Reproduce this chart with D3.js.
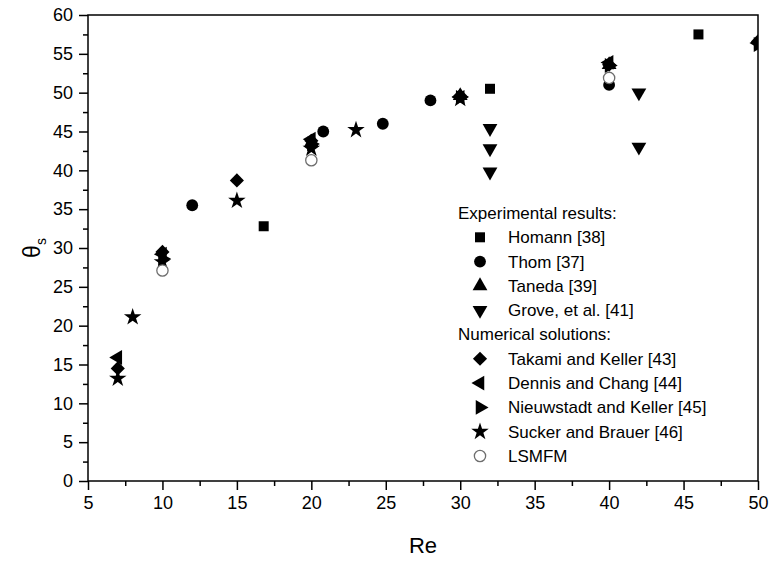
<!DOCTYPE html>
<html>
<head>
<meta charset="utf-8">
<script src="https://cdn.jsdelivr.net/npm/d3@7"></script>
<style>
  html, body { margin: 0; padding: 0; background: #fff; }
  text { font-family: "Liberation Sans", Arial, sans-serif; fill: #000; }
</style>
</head>
<body>
<svg id="chart" width="770" height="582"></svg>
<script>
// Separation angle θs versus Reynolds number
const reTicks = [5, 10, 15, 20, 25, 30, 35, 40, 45, 50];
const thetaTicks = [0, 5, 10, 15, 20, 25, 30, 35, 40, 45, 50, 55, 60];

// Experimental results
const homannRe = [16.8, 32, 46];
const homannTheta = [32.8, 50.5, 57.5];
const thomRe = [12, 20.8, 24.8, 28, 40];
const thomTheta = [35.5, 45.0, 46.0, 49.0, 51.0];
const tanedaRe = [20, 30, 40];
const tanedaTheta = [43.6, 49.6, 53.6];
const groveRe = [32, 32, 32, 42, 42];
const groveTheta = [45.4, 42.8, 39.8, 50.0, 43.0];

// Numerical solutions
const takamiRe = [7, 10, 15, 20, 30, 40, 50];
const takamiTheta = [14.5, 29.5, 38.7, 43.8, 49.6, 53.6, 56.6];
const dennisRe = [7, 10, 20, 30, 40, 50];
const dennisTheta = [15.9, 29.2, 44.0, 49.4, 53.9, 56.4];
const nieuwRe = [10, 20, 30, 40, 50];
const nieuwTheta = [28.6, 43.4, 49.4, 53.5, 56.2];
const suckerRe = [7, 8, 10, 15, 20, 23, 30];
const suckerTheta = [13.2, 21.1, 28.2, 36.1, 42.8, 45.2, 49.2];
const lsmfmRe = [10, 20, 40];
const lsmfmTheta = [27.1, 41.3, 51.9];

const seriesNames = [
  "Homann [38]", "Thom [37]", "Taneda [39]", "Grove, et al. [41]",
  "Takami and Keller [43]", "Dennis and Chang [44]",
  "Nieuwstadt and Keller [45]", "Sucker and Brauer [46]", "LSMFM"
];

const svg = d3.select("#chart");
const margin = { left: 88, right: 12, top: 15, bottom: 101 };
const W = 770, H = 582;
const x = d3.scaleLinear().domain([5, 50]).range([margin.left, W - margin.right]);
const y = d3.scaleLinear().domain([0, 60]).range([H - margin.bottom, margin.top]);

// marker styles
const sym = {
  square:   { type: d3.symbolSquare,   size: 100, rot: 0 },
  circle:   { type: d3.symbolCircle,   size: 110, rot: 0 },
  triUp:    { type: d3.symbolTriangle, size: 95,  rot: 0 },
  triDown:  { type: d3.symbolTriangle, size: 95,  rot: 180 },
  diamond:  { type: d3.symbolSquare,   size: 100, rot: 45 },
  triLeft:  { type: d3.symbolTriangle, size: 95,  rot: -90 },
  triRight: { type: d3.symbolTriangle, size: 95,  rot: 90 },
  star:     { type: d3.symbolStar,     size: 95,  rot: 0 },
  open:     { type: d3.symbolCircle,   size: 100, rot: 0 }
};

const series = [
  { name: seriesNames[0], re: homannRe, th: homannTheta, s: "square" },
  { name: seriesNames[1], re: thomRe, th: thomTheta, s: "circle" },
  { name: seriesNames[2], re: tanedaRe, th: tanedaTheta, s: "triUp" },
  { name: seriesNames[3], re: groveRe, th: groveTheta, s: "triDown" },
  { name: seriesNames[4], re: takamiRe, th: takamiTheta, s: "diamond" },
  { name: seriesNames[5], re: dennisRe, th: dennisTheta, s: "triLeft" },
  { name: seriesNames[6], re: nieuwRe, th: nieuwTheta, s: "triRight" },
  { name: seriesNames[7], re: suckerRe, th: suckerTheta, s: "star" },
  { name: seriesNames[8], re: lsmfmRe, th: lsmfmTheta, s: "open" }
];

function drawMarker(g, key, cx, cy) {
  const m = sym[key];
  const p = g.append("path")
    .attr("d", d3.symbol().type(m.type).size(m.size)())
    .attr("transform", `translate(${cx},${cy}) rotate(${m.rot})`);
  if (key === "open") {
    p.attr("fill", "#fff").attr("stroke", "#6e6e6e").attr("stroke-width", 1.3);
  } else {
    p.attr("fill", "#000");
  }
  return p;
}

// clip region = plot area
svg.append("defs").append("clipPath").attr("id", "plotClip")
  .append("rect")
  .attr("x", x(5)).attr("y", y(60))
  .attr("width", x(50) - x(5)).attr("height", y(0) - y(60));

const plot = svg.append("g").attr("clip-path", "url(#plotClip)");
series.forEach(sr => {
  const g = plot.append("g");
  sr.re.forEach((r, i) => drawMarker(g, sr.s, x(r), y(sr.th[i])));
});

// axes
const minorX = d3.range(7.5, 50, 5);
const minorY = d3.range(2.5, 60, 5);

const xAxis = svg.append("g").attr("transform", `translate(0,${y(0)})`)
  .call(d3.axisBottom(x).tickValues(reTicks).tickFormat(d3.format("d")).tickSize(9).tickPadding(6));
const xMinor = svg.append("g").attr("transform", `translate(0,${y(0)})`)
  .call(d3.axisBottom(x).tickValues(minorX).tickFormat("").tickSize(5));
const yAxis = svg.append("g").attr("transform", `translate(${x(5)},0)`)
  .call(d3.axisLeft(y).tickValues(thetaTicks).tickFormat(d3.format("d")).tickSize(9).tickPadding(6));
const yMinor = svg.append("g").attr("transform", `translate(${x(5)},0)`)
  .call(d3.axisLeft(y).tickValues(minorY).tickFormat("").tickSize(5));

[xAxis, xMinor, yAxis, yMinor].forEach(a => {
  a.select(".domain").remove();
  a.selectAll("line").attr("stroke", "#000").attr("stroke-width", 1.5);
  a.selectAll("text").style("font-size", "18px").attr("fill", "#000");
});

// frame
svg.append("rect")
  .attr("x", x(5)).attr("y", y(60))
  .attr("width", x(50) - x(5)).attr("height", y(0) - y(60))
  .attr("fill", "none").attr("stroke", "#000").attr("stroke-width", 1.5);

// axis titles
svg.append("text")
  .attr("x", (x(5) + x(50)) / 2).attr("y", 553)
  .attr("text-anchor", "middle").style("font-size", "22px").text("Re");

const yt = svg.append("text")
  .attr("transform", `translate(40,${(y(0) + y(60)) / 2}) rotate(-90)`)
  .attr("text-anchor", "middle").style("font-size", "23px");
yt.append("tspan").text("θ");
yt.append("tspan").attr("dy", 6).style("font-size", "14px").text("s");

// legend
const legend = svg.append("g");
const rowH = 24.3;
const legTop = 213;
const headerX = 458, symX = 480, textX = 508;
const rows = [
  { header: "Experimental results:" },
  { item: 0 }, { item: 1 }, { item: 2 }, { item: 3 },
  { header: "Numerical solutions:" },
  { item: 4 }, { item: 5 }, { item: 6 }, { item: 7 }, { item: 8 }
];
rows.forEach((r, i) => {
  const cy = legTop + i * rowH;
  if (r.header) {
    legend.append("text").attr("x", headerX).attr("y", cy).attr("dy", "0.35em")
      .style("font-size", "17px").text(r.header);
  } else {
    const sr = series[r.item];
    drawMarker(legend, sr.s, symX, cy);
    legend.append("text").attr("x", textX).attr("y", cy).attr("dy", "0.35em")
      .style("font-size", "17px").text(sr.name);
  }
});
</script>
</body>
</html>
